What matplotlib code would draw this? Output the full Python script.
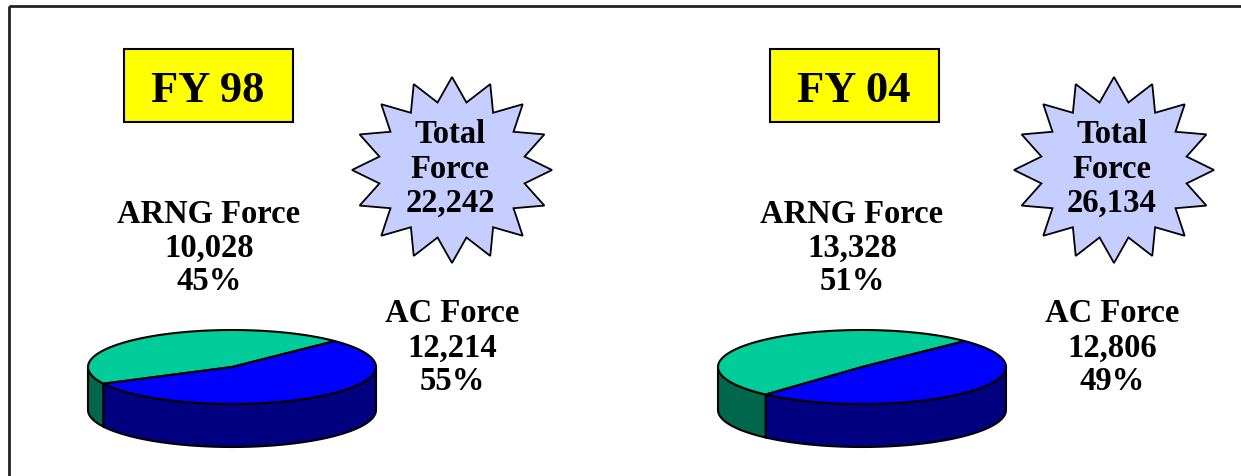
import numpy as np
import matplotlib
matplotlib.use('Agg')
import matplotlib.pyplot as plt
from matplotlib.patches import Polygon, Rectangle

plt.rcParams['font.family'] = ['Liberation Serif', 'DejaVu Serif']
plt.rcParams['font.weight'] = 'bold'

# data
years = ['FY 98', 'FY 04']
arng_force = [10028, 13328]
ac_force = [12214, 12806]
total_force = [22242, 26134]

W, H = 1241, 476
top_colors = ['#00CC99', '#0000FF']
side_colors = ['#00664C', '#000080']
star_color = '#C5CEFF'


def ell(cx, cy, a, b, t):
    t = np.radians(t)
    return cx + a * np.cos(t), cy - b * np.sin(t)


def draw_pie3d(ax, cx, cy, values, a=144, b=37, depth=43, start=44.5):
    fracs = np.array(values, dtype=float) / sum(values)
    angles = start + np.concatenate([[0], np.cumsum(fracs) * 360])
    # front walls first
    for i in range(len(values)):
        t0, t1 = angles[i], angles[i + 1]
        for k in (0, 360):
            lo = max(t0, 180 + k)
            hi = min(t1, 360 + k)
            if hi <= lo:
                continue
            ts = np.linspace(lo, hi, 80)
            x, y = ell(cx, cy, a, b, ts)
            xs = np.concatenate([x, x[::-1]])
            ys = np.concatenate([y, y[::-1] + depth])
            ax.add_patch(Polygon(np.column_stack([xs, ys]), closed=True,
                                 facecolor=side_colors[i], edgecolor='black',
                                 linewidth=1.5, zorder=2))
    # top wedges
    for i in range(len(values)):
        ts = np.linspace(angles[i], angles[i + 1], 120)
        x, y = ell(cx, cy, a, b, ts)
        xs = np.concatenate([[cx], x])
        ys = np.concatenate([[cy], y])
        ax.add_patch(Polygon(np.column_stack([xs, ys]), closed=True,
                             facecolor=top_colors[i], edgecolor='black',
                             linewidth=1.5, zorder=3))


def draw_star(ax, cx, cy, rx=100, ry=93, n=16, inner=0.74):
    ang = np.radians(90 + np.arange(2 * n) * 180.0 / n)
    r = np.where(np.arange(2 * n) % 2 == 0, 1.0, inner)
    pts = np.column_stack([cx + rx * r * np.cos(ang), cy - ry * r * np.sin(ang)])
    ax.add_patch(Polygon(pts, closed=True, facecolor=star_color,
                         edgecolor='black', linewidth=1.3, zorder=2))


def lines(ax, x, baselines, texts, size=23.5):
    for yb, s in zip(baselines, texts):
        ax.text(x, yb, s, ha='center', va='baseline', fontsize=size,
                fontweight='bold', color='black', zorder=5)


fig = plt.figure(figsize=(W / 100, H / 100), dpi=100)
ax = fig.add_axes([0, 0, 1, 1])
ax.set_xlim(0, W)
ax.set_ylim(H, 0)
ax.axis('off')

# outer frame (runs off the right and bottom)
ax.add_patch(Rectangle((9, 6), W + 20, H + 20, fill=False, edgecolor='#222222',
                       linewidth=2, zorder=1))

offsets = [0, 646]
for k, yr in enumerate(years):
    dx = offsets[k]
    tot = total_force[k]
    # year box
    ax.add_patch(Rectangle((124 + dx, 49), 169, 73, facecolor='#FFFF00',
                           edgecolor='black', linewidth=1.5, zorder=2))
    ax.text(208 + dx, 102, yr, ha='center', va='baseline', fontsize=32,
            fontweight='bold', zorder=5)
    # star
    scx = 452 if k == 0 else 1114
    draw_star(ax, scx, 170)
    lines(ax, scx - 2, [143, 178, 212], ['Total', 'Force', f'{tot:,}'])
    # pie
    draw_pie3d(ax, 232 + 630 * k, 367, [arng_force[k], ac_force[k]])
    # labels
    arng_pct = round(100 * arng_force[k] / tot)
    ac_pct = round(100 * ac_force[k] / tot)
    lines(ax, 209 + 643 * k, [223, 257, 290],
          ['ARNG Force', f'{arng_force[k]:,}', f'{arng_pct}%'])
    lines(ax, 452 + 660 * k, [322, 357, 390],
          ['AC Force', f'{ac_force[k]:,}', f'{ac_pct}%'])

fig.savefig('out.png', dpi=100, facecolor='white')
